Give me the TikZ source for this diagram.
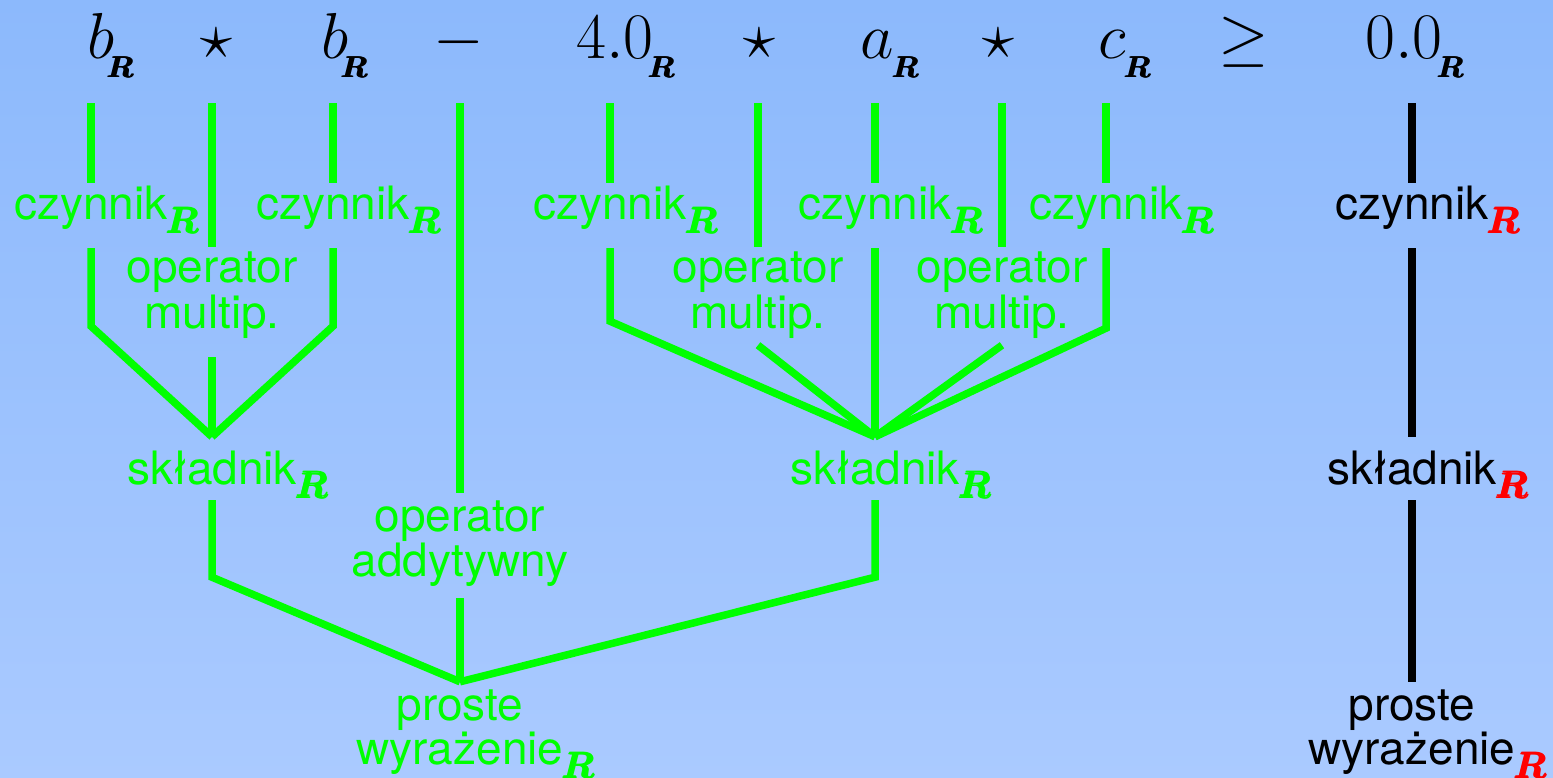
\RequirePackage{fix-cm}
\documentclass[tikz,border=0pt]{standalone}
\usepackage{amsmath}
\usepackage{fontspec}
\newfontfamily\heros{TeX Gyre Heros}
\DeclareMathAlphabet{\mathbi}{OML}{cmm}{b}{it}
\definecolor{lg}{RGB}{0,255,0}
\definecolor{rr}{RGB}{255,0,0}
\definecolor{bgtop}{RGB}{140,185,252}
\definecolor{bgbot}{RGB}{170,202,255}
\newcommand{\RsubL}{\rlap{\kern-1pt\raisebox{-14pt}{\fontsize{37}{37}\selectfont$\pmb{\mathbi{R}}$}}}
\newcommand{\RsubT}[1]{\rlap{\kern#1\raisebox{-19pt}{\fontsize{30}{30}\selectfont$\pmb{\mathbi{R}}$}}}
\newcommand{\twol}[2]{\begin{tabular}[t]{@{}c@{}}#1\\#2\end{tabular}}
\tikzset{
  sym/.style={inner sep=0pt, anchor=base, text height=46pt, text depth=44pt, font=\fontsize{65}{65}\selectfont, text=black},
  lab/.style={inner sep=0pt, anchor=base, font=\heros\fontsize{46}{40}\selectfont, text=lg},
  blab/.style={lab, text=black},
  gedge/.style={line width=7.5pt, draw=lg},
  bedge/.style={line width=7.5pt, draw=black}
}
\begin{document}
\begin{tikzpicture}[x=1pt,y=-1pt]
\useasboundingbox (0,0) rectangle (1553,778);
\shade[top color=bgtop, bottom color=bgbot] (0,0) rectangle (1553,778);
% top formula
\node[sym] (b1) at (101,59) {$b$\RsubT{-7pt}};
\node[sym] (st1) at (216,59) {$\star$};
\node[sym] (b2) at (335,59) {$b$\RsubT{-7pt}};
\node[sym] (mi) at (459,59) {$-$};
\node[sym] (f4) at (615,59) {$4.0$\RsubT{-5pt}};
\node[sym] (st2) at (759,59) {$\star$};
\node[sym] (av) at (877,59) {$a$\RsubT{-1pt}};
\node[sym] (st3) at (998,59) {$\star$};
\node[sym] (cv) at (1112,59) {$c$\RsubT{-1pt}};
\node[sym] (ge) at (1244,59) {$\geq$};
\node[sym] (zr) at (1404,59) {$0.0$\RsubT{-5pt}};
% czynnik row
\node[lab, text height=37pt, text depth=28pt] (cz1) at (91,220) {czynnik\RsubL};
\node[lab, text height=37pt, text depth=28pt] (cz2) at (333,220) {czynnik\RsubL};
\node[lab, text height=37pt, text depth=28pt] (cz3) at (610,220) {czynnik\RsubL};
\node[lab, text height=37pt, text depth=28pt] (cz4) at (875,220) {czynnik\RsubL};
\node[lab, text height=37pt, text depth=28pt] (cz5) at (1106,220) {czynnik\RsubL};
\node[blab, text height=37pt, text depth=28pt] (czr) at (1412,220) {czynnik{\color{rr}\RsubL}};
% operator multip.
\node[lab, text height=36pt, text depth=74pt] (om1) at (212,283) {\twol{operator}{multip.}};
\node[lab, text height=36pt, text depth=62pt] (om2) at (758,283) {\twol{operator}{multip.}};
\node[lab, text height=36pt, text depth=62pt] (om3) at (1002,283) {\twol{operator}{multip.}};
% skladnik
\node[lab, text height=47pt, text depth=16pt] (sk1) at (212,484) {składnik\RsubL};
\node[lab, text height=47pt, text depth=16pt] (sk2) at (875,484) {składnik\RsubL};
\node[blab, text height=47pt, text depth=16pt] (skr) at (1412,484) {składnik{\color{rr}\RsubL}};
% operator addytywny
\node[lab, text height=38pt, text depth=67pt] (oa) at (460,531) {\twol{operator}{addytywny}};
% proste wyrazenie
\node[lab, text height=38pt, text depth=50pt] (pw) at (460,720) {\twol{proste}{wyrażenie\RsubL}};
\node[blab, text height=38pt, text depth=50pt] (pwr) at (1412,720) {\twol{proste}{wyrażenie{\color{rr}\RsubL}}};
% green connectors
\draw[gedge] (b1.south -| cz1) -- (cz1.north);
\draw[gedge] (cz1.south) -- ++(0,78) -- (sk1.north);
\draw[gedge] (st1.south -| om1) -- (om1.north);
\draw[gedge] (om1.south) -- (sk1.north);
\draw[gedge] (b2.south -| cz2) -- (cz2.north);
\draw[gedge] (cz2.south) -- ++(0,78) -- (sk1.north);
\draw[gedge] (mi.south -| oa) -- (oa.north);
\draw[gedge] (oa.south) -- (pw.north);
\draw[gedge] (f4.south -| cz3) -- (cz3.north);
\draw[gedge] (cz3.south) -- ++(0,73) -- (sk2.north);
\draw[gedge] (st2.south -| om2) -- (om2.north);
\draw[gedge] (om2.south) -- (sk2.north);
\draw[gedge] (av.south -| cz4) -- (cz4.north);
\draw[gedge] (cz4.south) -- (sk2.north);
\draw[gedge] (st3.south -| om3) -- (om3.north);
\draw[gedge] (om3.south) -- (sk2.north);
\draw[gedge] (cv.south -| cz5) -- (cz5.north);
\draw[gedge] (cz5.south) -- ++(0,80) -- (sk2.north);
\draw[gedge] (sk1.south) -- ++(0,77) -- (pw.north);
\draw[gedge] (sk2.south) -- ++(0,77) -- (pw.north);
% black connectors
\draw[bedge] (zr.south -| czr) -- (czr.north);
\draw[bedge] (czr.south) -- (skr.north);
\draw[bedge] (skr.south) -- (pwr.north);
\end{tikzpicture}
\end{document}
